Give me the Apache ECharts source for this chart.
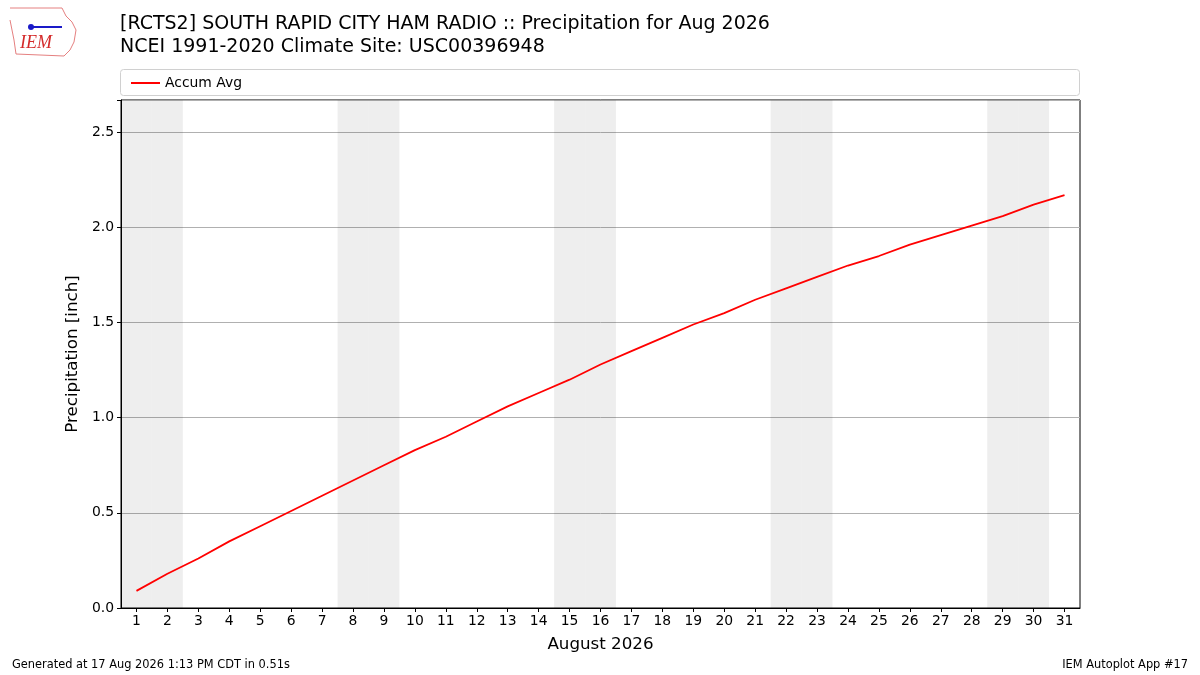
<!DOCTYPE html>
<html>
<head>
<meta charset="utf-8">
<script src="https://cdn.jsdelivr.net/npm/echarts@6/dist/echarts.min.js"></script>
<style>html,body{margin:0;padding:0;background:#fff}#c{width:1200px;height:675px}</style>
</head>
<body>
<div id="c"></div>
<script>
var days = ['1','2','3','4','5','6','7','8','9','10','11','12','13','14','15','16','17','18','19','20','21','22','23','24','25','26','27','28','29','30','31'];
var accumAvg = [0.09,0.18,0.26,0.35,0.43,0.51,0.59,0.67,0.75,0.83,0.90,0.98,1.06,1.13,1.20,1.28,1.35,1.42,1.49,1.55,1.62,1.68,1.74,1.80,1.85,1.91,1.96,2.01,2.06,2.12,2.17];
var weekendDays = ['1','2','8','9','15','16','22','23','29','30'];
var yTicks = [0,0.5,1.0,1.5,2.0,2.5];
var yMax = 2.67;

var weekendBars = days.map(function(d){ return weekendDays.indexOf(d) >= 0 ? yMax : null; });
var FONT = 'DejaVu Sans';
var chart = echarts.init(document.getElementById('c'), null, {renderer:'canvas'});
chart.setOption({
  backgroundColor:'#fff',
  animation:false,
  textStyle:{fontFamily:FONT},
  grid:{left:121, right:120, top:100, bottom:67, show:true, borderColor:'#000', borderWidth:1, backgroundColor:'transparent'},
  graphic:[
    {type:'text', left:120, top:15, style:{text:'[RCTS2] SOUTH RAPID CITY HAM RADIO :: Precipitation for Aug 2026', font:'19px DejaVu Sans', fill:'#000'}},
    {type:'text', left:120, top:38, style:{text:'NCEI 1991-2020 Climate Site: USC00396948', font:'19px DejaVu Sans', fill:'#000'}},
    {type:'rect', shape:{x:120.5, y:69.5, width:959, height:26, r:3}, style:{fill:'none', stroke:'#d0d0d0', lineWidth:1}},
    {type:'text', left:12, top:660, style:{text:'Generated at 17 Aug 2026 1:13 PM CDT in 0.51s', font:'11.4px DejaVu Sans', fill:'#000'}},
    {type:'text', right:12, top:660, style:{text:'IEM Autoplot App #17', font:'11.4px DejaVu Sans', fill:'#000', align:'right'}},
    {type:'text', left:20, top:34, style:{text:'IEM', font:'italic 18px "Liberation Serif"', fill:'#d42a2a'}},
    {type:'polyline', shape:{points:[[10,8],[62,8],[66,16],[72,22],[76,30],[74,42],[70,50],[64,56],[16,54],[14,40],[10,20]]}, style:{fill:'none', stroke:'#e58080', lineWidth:1}},
    {type:'polyline', shape:{points:[[30,27],[62,27]]}, style:{stroke:'#1a1ac8', lineWidth:2}},
    {type:'circle', shape:{cx:31, cy:27, r:3}, style:{fill:'#1a1ac8'}}
  ],
  legend:{
    left:126, top:71, itemWidth:29, itemHeight:2, itemGap:10,
    icon:'rect',
    textStyle:{fontSize:13.9, color:'#000', fontFamily:FONT},
    data:[{name:'Accum Avg'}]
  },
  xAxis:{
    type:'category', data:days, boundaryGap:true,
    name:'August 2026', nameLocation:'middle', nameGap:28,
    nameTextStyle:{fontSize:16.7, color:'#000', fontFamily:FONT},
    axisLine:{show:true, lineStyle:{color:'#000'}},
    axisTick:{show:true, alignWithLabel:true, length:4, lineStyle:{color:'#000'}},
    axisLabel:{fontSize:13.9, color:'#000', margin:6, interval:0, fontFamily:FONT},
    splitLine:{show:false}
  },
  yAxis:{
    type:'value', min:0, max:yMax, interval:0.5,
    name:'Precipitation [inch]', nameLocation:'middle', nameGap:40,
    nameTextStyle:{fontSize:16.7, color:'#000', fontFamily:FONT},
    axisLine:{show:true, lineStyle:{color:'#000'}},
    axisTick:{show:true, length:4, lineStyle:{color:'#000'}},
    axisLabel:{fontSize:13.9, color:'#000', margin:7, fontFamily:FONT, formatter:function(v){return yTicks.indexOf(v)>=0 ? v.toFixed(1) : '';}},
    splitLine:{show:true, lineStyle:{color:'#b0b0b0', width:1}}
  },
  series:[
    {type:'bar', name:'weekend', data:weekendBars, barWidth:'100%', barGap:'-100%', silent:true,
     itemStyle:{color:'rgba(0,0,0,0.067)'}, legendHoverLink:false, z:1},
    {type:'line', name:'Accum Avg', data:accumAvg, showSymbol:false, symbol:'none',
     lineStyle:{color:'#ff0000', width:1.8}, itemStyle:{color:'#ff0000'}, z:3}
  ]
});
</script>
</body>
</html>
